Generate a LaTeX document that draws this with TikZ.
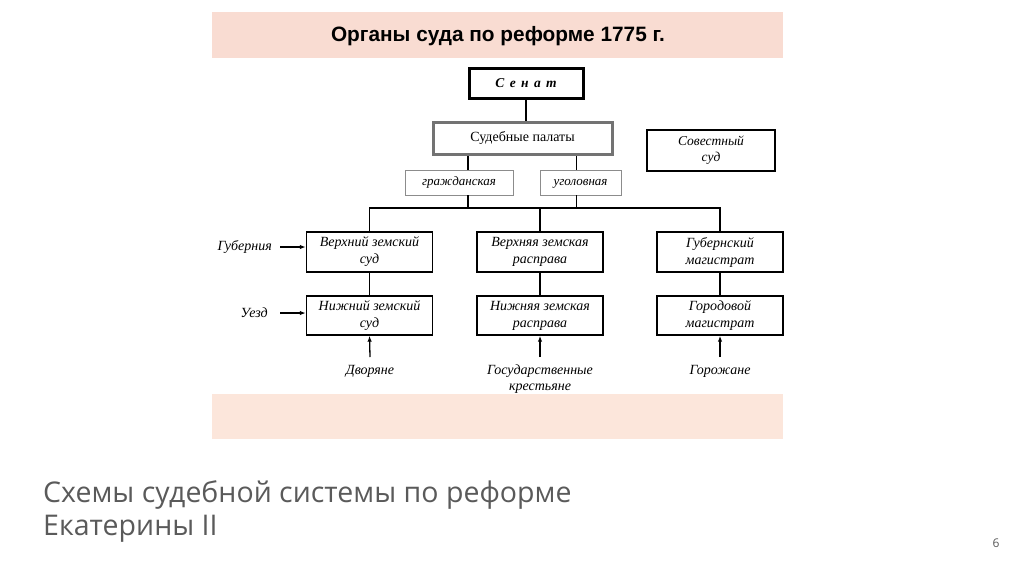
\documentclass[tikz,border=0pt]{standalone}
\usepackage{fontspec}
\setmainfont{Liberation Serif}
\newfontfamily\titlefont{Liberation Sans}
\newfontfamily\capfont{Open Sans}
\newfontfamily\senatfont[LetterSpace=40]{Liberation Serif}
\usetikzlibrary{arrows.meta}
\definecolor{pinktop}{HTML}{F9DCD2}
\definecolor{pinkbot}{HTML}{FCE6DB}
\definecolor{capgray}{HTML}{5A5A5A}
\begin{document}
\begin{tikzpicture}[x=1pt,y=-1pt,
  court/.style={draw=black,line width=1.4pt,minimum width=126pt,minimum height=40pt,inner sep=0pt,align=center,font=\fontsize{14}{17}\selectfont\itshape},
  sub/.style={draw=black!45,line width=0.9pt,minimum height=25pt,inner sep=0pt,text height=9pt,text depth=3pt,font=\fontsize{13}{14}\selectfont\itshape},
  lbl/.style={inner sep=0pt,align=center,font=\fontsize{14}{15.5}\selectfont\itshape},
  link/.style={draw=black,line width=1.4pt},
  arr/.style={draw=black,line width=1.3pt,-{Latex[length=6pt,width=4.5pt]}}]
\useasboundingbox (0,0) rectangle (1024,574);
\fill[white] (0,0) rectangle (1024,574);
\fill[pinktop] (212,12) rectangle (783,58);
\fill[pinkbot] (212,394) rectangle (783,439);
\node[inner sep=0pt,font=\titlefont\fontsize{20.8}{24}\selectfont\bfseries] (title) at (498,36) {Органы суда по реформе 1775 г.};
% top
\node[draw=black,line width=3pt,minimum width=114pt,minimum height=30pt,inner sep=0pt,font=\senatfont\fontsize{13.5}{15}\selectfont\bfseries\itshape] (senat) at (526,83) {Сенат};
\node[draw=black!55,line width=3pt,minimum width=179pt,minimum height=32pt,inner sep=0pt,font=\fontsize{14}{16}\selectfont] (sp) at (522.5,138) {Судебные палаты};
\node[court,minimum width=128pt,minimum height=41pt,line width=1.2pt,font=\fontsize{13.5}{16}\selectfont\itshape] (sov) at (711,150.5) {Совестный\\суд};
\node[sub,minimum width=108pt] (grazh) at (459,182.5) {гражданская};
\node[sub,minimum width=81pt] (ugol) at (580.5,182.5) {уголовная};
% upper row
\node[court] (vzs) at (369.5,252) {Верхний земский\\суд};
\node[court] (vzr) at (540,252) {Верхняя земская\\расправа};
\node[court] (gm) at (720,252) {Губернский\\магистрат};
% lower row
\node[court,minimum height=39pt] (nzs) at (369.5,315.5) {Нижний земский\\суд};
\node[court,minimum height=39pt] (nzr) at (540,315.5) {Нижняя земская\\расправа};
\node[court,minimum height=39pt] (gorm) at (720,315.5) {Городовой\\магистрат};
% side labels
\node[lbl,anchor=east] (gub) at (272,247) {Губерния};
\node[lbl,anchor=east] (uezd) at (268,313) {Уезд};
% bottom labels
\node[lbl,anchor=north] (dvor) at (370,365) {Дворяне};
\node[lbl,anchor=north] (gkr) at (540,365) {Государственные\\крестьяне};
\node[lbl,anchor=north] (gor) at (720,365) {Горожане};
% connectors
\draw[link] (senat) -- (senat |- sp.north);
\draw[link] ([xshift=9pt]grazh.north) -- ([xshift=9pt]grazh.north |- sp.south);
\draw[link] ([xshift=-4pt]ugol.north) -- ([xshift=-4pt]ugol.north |- sp.south);
\coordinate (bar) at (540,208);
\draw[link] (vzs.north) |- (bar) -| (gm.north);
\draw[link] (vzr.north) -- (bar);
\draw[link] ([xshift=9pt]grazh.south) -- ([xshift=9pt]grazh.south |- bar);
\draw[link] ([xshift=-4pt]ugol.south) -- ([xshift=-4pt]ugol.south |- bar);
\draw[link] (vzs) -- (nzs);
\draw[link] (vzr) -- (nzr);
\draw[link] (gm) -- (gorm);
\draw[arr] ([xshift=8pt]gub.east) -- (vzs.west |- gub.east);
\draw[arr] ([xshift=12pt]uezd.east) -- (nzs.west |- uezd.east);
\draw[arr] ([yshift=8pt]dvor.north) -- (nzs.south);
\draw[arr] ([yshift=8pt]gkr.north) -- (nzr.south);
\draw[arr] ([yshift=8pt]gor.north) -- (gorm.south);
% caption
\node[anchor=base west,inner sep=0pt,text=capgray,font=\capfont\fontsize{28.5}{32}\selectfont] (cap1) at (43,502) {Схемы судебной системы по реформе};
\node[anchor=base west,inner sep=0pt,text=capgray,font=\capfont\fontsize{28.5}{32}\selectfont] (cap2) at (43,535) {Екатерины II};
\node[inner sep=0pt,text=capgray,font=\capfont\fontsize{12}{14}\selectfont] (pg) at (996,543) {6};
\end{tikzpicture}
\end{document}
